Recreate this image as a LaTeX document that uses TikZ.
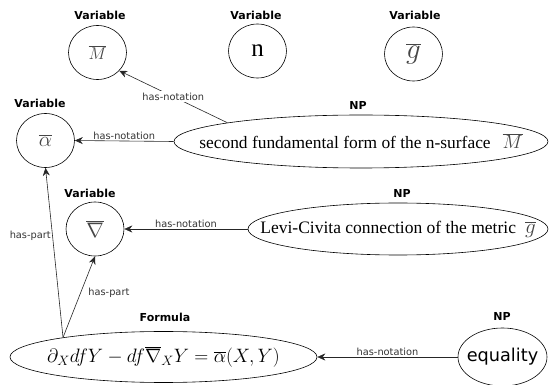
\documentclass[tikz,border=0pt]{standalone}
\usepackage{fix-cm}
\usepackage{fontspec}
\setmainfont{Liberation Serif}
\newfontfamily\lblfont{DejaVu Sans}
\usetikzlibrary{shapes.geometric,arrows.meta}
\definecolor{mathgray}{RGB}{70,70,70}
\tikzset{
  varnode/.style={ellipse, draw, line width=0.6pt, minimum width=58pt, minimum height=54pt, inner sep=0pt},
  bigell/.style={ellipse, draw, line width=0.6pt, inner sep=0pt},
  tagtext/.style={font=\lblfont\bfseries\fontsize{11}{12}\selectfont},
  reltext/.style={font=\lblfont\fontsize{9.8}{11}\selectfont, text=black!80, inner sep=1.5pt},
  rel/.style={draw=black!85, line width=0.6pt, -{Stealth[length=8pt,width=7pt]}}
}
\begin{document}
\begin{tikzpicture}[x=1pt,y=-1pt]
\useasboundingbox (0,0) rectangle (550,385);
% variable nodes
\node[varnode] (mbar) at (97.5,52.5) {\color{mathgray}\fontsize{17}{19}\selectfont$\overline{M}$};
\node[varnode] (n) at (257.5,51) {\fontsize{25}{27}\selectfont n};
\node[varnode] (gbar) at (413.5,54) {\color{mathgray}\fontsize{29}{31}\selectfont$\overline{g}$};
\node[varnode] (alpha) at (45.5,140.5) {\color{mathgray}\fontsize{21}{23}\selectfont$\overline{\alpha}$};
\node[varnode] (nabla) at (95,229) {\color{mathgray}\fontsize{21}{23}\selectfont$\overline{\nabla}$};
% big ellipses
\node[bigell, minimum width=374pt, minimum height=53pt] (np1) at (361,141.5)
  {\makebox[0pt]{\fontsize{17.4}{20}\selectfont second fundamental form of the n-surface\hspace{12pt}{\color{mathgray}\fontsize{19}{21}\selectfont$\overline{M}$}}};
\node[bigell, minimum width=300pt, minimum height=52pt] (np2) at (398,229)
  {\makebox[0pt]{\fontsize{17.5}{20}\selectfont Levi-Civita connection of the metric\hspace{9pt}{\color{mathgray}\fontsize{21}{23}\selectfont$\overline{g}$}}};
\node[bigell, minimum width=307pt, minimum height=51pt] (formula) at (163.5,357)
  {\makebox[0pt]{\fontsize{19.4}{22}\selectfont$\partial_X df Y - df\overline{\nabla}_X Y = \overline{\alpha}(X,Y)$}};
\node[bigell, minimum width=89pt, minimum height=58pt] (equality) at (502.5,357)
  {\makebox[0pt]{\lblfont\fontsize{17.7}{20}\selectfont equality}};
% type tags
\node[tagtext] (t1) at (100,15) {Variable};
\node[tagtext] (t2) at (256,15) {Variable};
\node[tagtext] (t3) at (415,15) {Variable};
\node[tagtext] (t4) at (40,103) {Variable};
\node[tagtext] (t5) at (90,193) {Variable};
\node[tagtext] (t6) at (358,105) {NP};
\node[tagtext] (t7) at (402,193) {NP};
\node[tagtext] (t8) at (165,317) {Formula};
\node[tagtext] (t9) at (502,316) {NP};
% edges
\draw[rel] (np1.172) -- node[reltext, fill=white, pos=0.5] {has-notation} (mbar.-40);
\draw[rel] (np1.west) -- node[reltext, above] {has-notation} (alpha.east);
\draw[rel] (np2.west) -- node[reltext, above] {has-notation} (nabla.east);
\draw[rel] (equality.west) -- node[reltext, above] {has-notation} (formula.east);
\coordinate (fs) at (formula.169);
\draw[rel] (fs) -- node[reltext, left, pos=0.6] {has-part} (alpha.south);
\draw[rel] (fs) -- node[reltext, right, pos=0.55, xshift=6pt] {has-part} (nabla.south);
\end{tikzpicture}
\end{document}
